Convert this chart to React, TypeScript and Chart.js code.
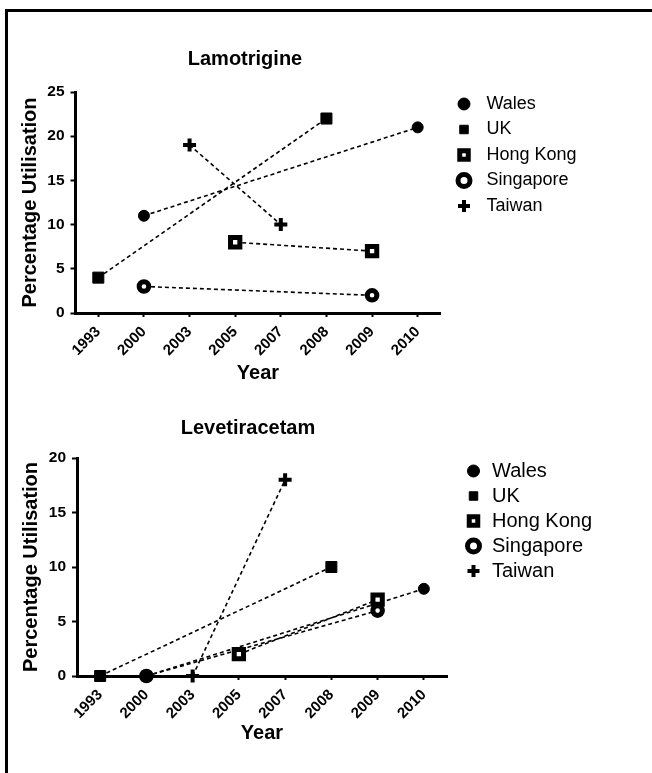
import React, { useEffect, useRef } from 'react';
import { Chart, registerables } from 'chart.js';

Chart.register(...registerables);

// ---------- data ----------
const years = ['1993', '2000', '2003', '2005', '2007', '2008', '2009', '2010'];
const countries = ['Wales', 'UK', 'Hong Kong', 'Singapore', 'Taiwan'];

// Lamotrigine (% utilisation)
const lamWales = [null, 11, null, null, null, null, null, 21];
const lamUK = [4, null, null, null, null, 22, null, null];
const lamHongKong = [null, null, null, 8, null, null, 7, null];
const lamSingapore = [null, 3, null, null, null, null, 2, null];
const lamTaiwan = [null, null, 19, null, 10, null, null, null];

// Levetiracetam (% utilisation)
const levWales = [null, 0, null, null, null, null, null, 8];
const levUK = [0, null, null, null, null, 10, null, null];
const levHongKong = [null, null, null, 2, null, null, 7, null];
const levSingapore = [null, 0, null, null, null, null, 6, null];
const levTaiwan = [null, null, 0, null, 18, null, null, null];

const lamYTicks = [0, 5, 10, 15, 20, 25];
const levYTicks = [0, 5, 10, 15, 20];

const FONT = "'Liberation Sans', Arial, Helvetica, sans-serif";

// marker styles per country
const markerStyles = [
  { pointStyle: 'circle', pointRadius: 5.5, pointBackgroundColor: '#000', pointBorderWidth: 1 },
  { pointStyle: 'rect', pointRadius: 7.8, pointBackgroundColor: '#000', pointBorderWidth: 1 },
  { pointStyle: 'rect', pointRadius: 6.6, pointBackgroundColor: '#fff', pointBorderWidth: 5 },
  { pointStyle: 'circle', pointRadius: 4.8, pointBackgroundColor: '#fff', pointBorderWidth: 5 },
  { pointStyle: 'cross', pointRadius: 6.5, pointBackgroundColor: '#000', pointBorderWidth: 4 },
];

type Cfg = {
  title: string;
  series: (number | null)[][];
  yMax: number;
  yTicks: number[];
  titlePad: { top: number; bottom: number };
  titleCx: number;
  yWidth: number;
  yTitlePad: number;
  xHeight: number;
  xTitlePadBottom: number;
  padRight: number;
  padBottom: number;
  legendLeft: number;
  legendTop: number;
  legendFont: number;
  legendPad: number;
  legendPrefix: string;
};

function buildChart(canvas: HTMLCanvasElement, cfg: Cfg) {
  const datasets = countries.map((name, i) => ({
    label: name,
    data: cfg.series[i],
    borderColor: '#000',
    borderWidth: 1.6,
    borderDash: [4, 3],
    spanGaps: true,
    fill: false,
    tension: 0,
    clip: false as any,
    pointBorderColor: '#000',
    pointHoverRadius: markerStyles[i].pointRadius,
    ...markerStyles[i],
  }));

  const placePlugin = {
    id: 'placeBoxes',
    afterLayout(chart: any) {
      const t = chart.titleBlock;
      if (t) {
        t.left = cfg.titleCx - 150;
        t.right = cfg.titleCx + 150;
        t.width = 300;
      }
      const lg = chart.legend;
      if (lg) {
        lg.left = cfg.legendLeft;
        lg.top = cfg.legendTop;
        lg.right = cfg.legendLeft + 190;
        lg.bottom = cfg.legendTop + 200;
        lg.width = 190;
        lg.height = 200;
      }
    },
  };

  return new Chart(canvas, {
    type: 'line',
    data: { labels: years, datasets },
    plugins: [placePlugin],
    options: {
      animation: false,
      responsive: false,
      devicePixelRatio: window.devicePixelRatio || 1,
      layout: { padding: { left: 0, top: 0, right: cfg.padRight, bottom: cfg.padBottom } },
      plugins: {
        title: {
          display: true,
          text: cfg.title,
          color: '#000',
          font: { family: FONT, size: 20, weight: 'bold' },
          padding: cfg.titlePad,
        },
        legend: {
          display: true,
          position: 'chartArea' as any,
          align: 'start',
          labels: {
            usePointStyle: true,
            boxWidth: 17,
            boxHeight: 8.5,
            padding: cfg.legendPad,
            color: '#000',
            font: { family: FONT, size: cfg.legendFont },
            generateLabels: (chart: any) =>
              (Chart.defaults.plugins.legend.labels as any)
                .generateLabels(chart)
                .map((l: any) => ({ ...l, text: cfg.legendPrefix + l.text })),
          },
        },
        tooltip: { enabled: false },
      },
      scales: {
        x: {
          type: 'category',
          offset: true,
          border: { display: true, color: '#000', width: 3 },
          grid: {
            display: true,
            drawOnChartArea: false,
            drawTicks: true,
            tickLength: 4,
            tickWidth: 2,
            tickColor: '#000',
            offset: false,
          },
          ticks: {
            color: '#000',
            font: { family: FONT, size: 15, weight: 'bold' },
            minRotation: 45,
            maxRotation: 45,
            padding: 6,
            autoSkip: false,
          },
          title: {
            display: true,
            text: 'Year',
            color: '#000',
            font: { family: FONT, size: 20, weight: 'bold' },
            padding: { top: 0, bottom: cfg.xTitlePadBottom },
          },
          afterFit: (s: any) => {
            s.height = cfg.xHeight;
          },
        },
        y: {
          type: 'linear',
          min: 0,
          max: cfg.yMax,
          border: { display: true, color: '#000', width: 3 },
          grid: {
            display: true,
            drawOnChartArea: false,
            drawTicks: true,
            tickLength: 5,
            tickWidth: 2,
            tickColor: '#000',
          },
          afterBuildTicks: (s: any) => {
            s.ticks = cfg.yTicks.map((v) => ({ value: v }));
          },
          ticks: {
            color: '#000',
            font: { family: FONT, size: 15.5, weight: 'bold' },
            padding: 6,
          },
          title: {
            display: true,
            text: 'Percentage Utilisation',
            color: '#000',
            font: { family: FONT, size: 20, weight: 'bold' },
            padding: { top: cfg.yTitlePad, bottom: 0 },
          },
          afterFit: (s: any) => {
            s.width = cfg.yWidth;
          },
        },
      },
    } as any,
  });
}

const lamCfg: Cfg = {
  title: 'Lamotrigine',
  series: [lamWales, lamUK, lamHongKong, lamSingapore, lamTaiwan],
  yMax: 25,
  yTicks: lamYTicks,
  titlePad: { top: 35, bottom: 21 },
  titleCx: 237,
  yWidth: 67.5,
  yTitlePad: 10,
  xHeight: 75,
  xTitlePadBottom: 3,
  padRight: 207.5,
  padBottom: 4,
  legendLeft: 440,
  legendTop: 75.5,
  legendFont: 18,
  legendPad: 7.5,
  legendPrefix: ' ',
};

const levCfg: Cfg = {
  title: 'Levetiracetam',
  series: [levWales, levUK, levHongKong, levSingapore, levTaiwan],
  yMax: 20,
  yTicks: levYTicks,
  titlePad: { top: 24, bottom: 18 },
  titleCx: 240,
  yWidth: 69,
  yTitlePad: 11,
  xHeight: 75,
  xTitlePadBottom: 6,
  padRight: 201,
  padBottom: 21,
  legendLeft: 452,
  legendTop: 64,
  legendFont: 20,
  legendPad: 5,
  legendPrefix: '',
};

function ChartCanvas({ cfg, top }: { cfg: Cfg; top: number }) {
  const ref = useRef<HTMLCanvasElement | null>(null);
  useEffect(() => {
    if (!ref.current) return;
    const chart = buildChart(ref.current, cfg);
    return () => chart.destroy();
  }, [cfg]);
  return (
    <canvas
      ref={ref}
      width={640}
      height={380}
      style={{ position: 'absolute', left: 8, top, width: 640, height: 380 }}
    />
  );
}

export default function App() {
  return (
    <div
      style={{
        position: 'absolute',
        left: 0,
        top: 0,
        width: 652,
        height: 773,
        overflow: 'hidden',
        background: '#fff',
      }}
    >
      <div
        style={{
          position: 'absolute',
          left: 5,
          top: 9,
          width: 647,
          height: 764,
          borderTop: '3px solid #000',
          borderLeft: '3px solid #000',
          boxSizing: 'border-box',
        }}
      />
      <ChartCanvas cfg={lamCfg} top={12} />
      <ChartCanvas cfg={levCfg} top={392} />
    </div>
  );
}
